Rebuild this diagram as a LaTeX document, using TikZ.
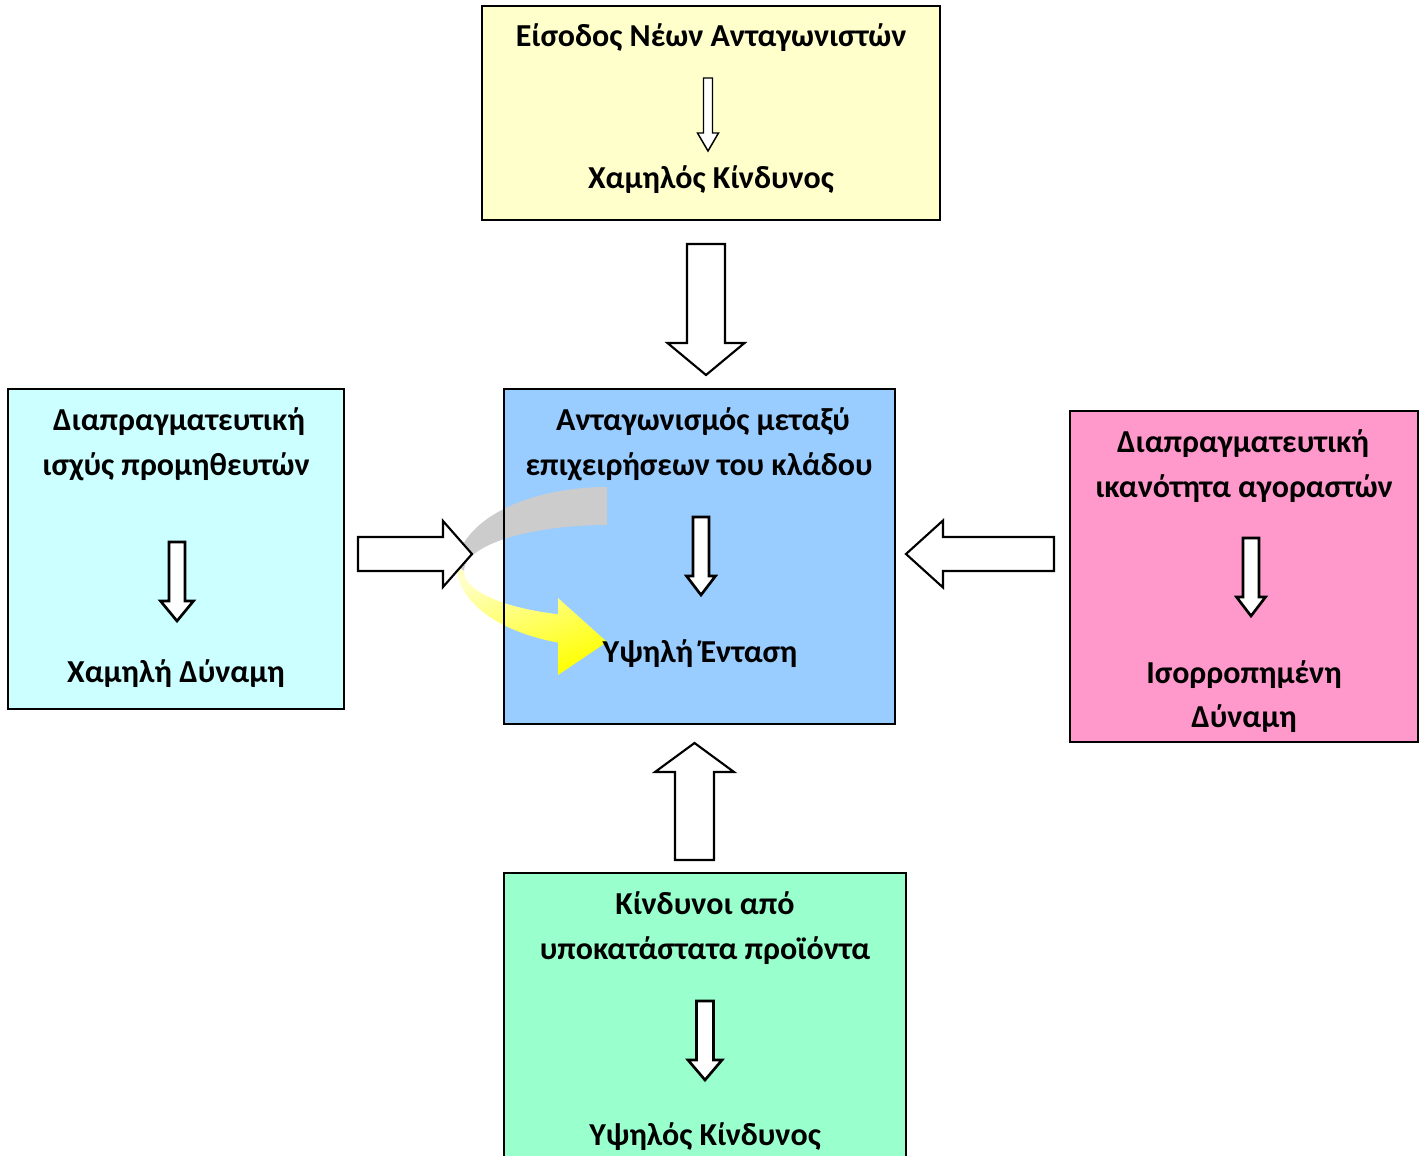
\documentclass[tikz,border=0pt]{standalone}
\usepackage{fontspec}
\setmainfont{Carlito}
\usetikzlibrary{calc}

\definecolor{boxyellow}{HTML}{FFFFCC}
\definecolor{boxcyan}{HTML}{CCFFFF}
\definecolor{boxblue}{HTML}{99CCFF}
\definecolor{boxpink}{HTML}{FF99CC}
\definecolor{boxgreen}{HTML}{99FFCC}
\definecolor{bandgray}{HTML}{CCCCCC}

% vertical block arrow: centre x, start y, shaft half width, head half width, head base y, tip y, style
\newcommand{\vblock}[7]{%
  \draw[#7] (#1-#3,#2) -- (#1+#3,#2) -- (#1+#3,#5) -- (#1+#4,#5) -- (#1,#6)
    -- (#1-#4,#5) -- (#1-#3,#5) -- cycle;}
% horizontal block arrow: centre y, start x, shaft half width, head half width, head base x, tip x, style
\newcommand{\hblock}[7]{%
  \draw[#7] (#2,#1-#3) -- (#2,#1+#3) -- (#5,#1+#3) -- (#5,#1+#4) -- (#6,#1)
    -- (#5,#1-#4) -- (#5,#1-#3) -- cycle;}

\tikzset{
  box/.style={line width=2pt, draw=black},
  label/.style={anchor=base, inner sep=0pt, font=\fontsize{24}{29}\selectfont\bfseries},
  bigarrow/.style={draw=black, fill=white, line width=1.6pt, line join=miter},
  smallarrow/.style={draw=black, fill=white, line width=2pt, line join=miter},
  thinarrow/.style={draw=black, fill=white, line width=1.1pt, line join=miter},
}

\begin{document}
\begin{tikzpicture}[x=0.75pt, y=-0.75pt]
\useasboundingbox (0,0) rectangle (1428,1156);

% box backgrounds
\fill[boxyellow] (482,6) rectangle (940,220);
\fill[boxcyan] (8,389) rectangle (344,709);
\fill[boxblue] (504,389) rectangle (895,724);
\fill[boxpink] (1070,411) rectangle (1418,742);
\begin{scope}
  \clip (0,0) rectangle (1428,1156);
  \fill[boxgreen] (504,873) rectangle (906,1170);
\end{scope}

% curved arrow inside the central box
\fill[bandgray]
  plot[domain=90:180, samples=40, smooth] ({607+150*cos(\x)}, {567-80*sin(\x)})
  -- plot[domain=180:90, samples=40, smooth] ({607+143*cos(\x)}, {571-46*sin(\x)})
  -- cycle;
\shade[top color=yellow!22!white, bottom color=yellow, shading angle=20]
  plot[domain=180:251, samples=40, smooth] ({607+150*cos(\x)}, {567-80*sin(\x)})
  -- (558,675) -- (607,642) -- (558,598)
  -- plot[domain=250:180, samples=40, smooth] ({607+143*cos(\x)}, {571-46*sin(\x)})
  -- cycle;

% box outlines
\draw[box] (482,6) rectangle (940,220);
\draw[box] (8,389) rectangle (344,709);
\draw[box] (504,389) rectangle (895,724);
\draw[box] (1070,411) rectangle (1418,742);
\begin{scope}
  \clip (0,0) rectangle (1428,1156);
  \draw[box] (504,1170) -- (504,873) -- (906,873) -- (906,1170);
\end{scope}

% arrows between the forces and the central box
\vblock{706}{244}{19}{38.5}{343}{375}{bigarrow}
\vblock{694.5}{860}{19.5}{39.5}{772}{743}{bigarrow}
\hblock{554}{358}{17}{33}{443}{472}{bigarrow}
\hblock{554}{1054}{17}{33.5}{943}{906}{bigarrow}

% arrows inside the boxes
\vblock{708}{78}{4.5}{10.5}{133}{151}{thinarrow}
\vblock{177}{542}{8}{16.5}{601}{621}{smallarrow}
\vblock{701}{517}{8}{14.5}{576}{595}{smallarrow}
\vblock{1251}{538}{8}{14.5}{597}{616}{smallarrow}
\vblock{705}{1001}{8.5}{17}{1060}{1080}{smallarrow}

% texts
\node[label] (t1) at (711,47) {Είσοδος Νέων Ανταγωνιστών};
\node[label] (t2) at (711,188) {Χαμηλός Κίνδυνος};

\node[label] (l1) at (179,430) {Διαπραγματευτική};
\node[label] (l2) at (176,475) {ισχύς προμηθευτών};
\node[label] (l3) at (176,682) {Χαμηλή Δύναμη};

\node[label] (c1) at (703,430) {Ανταγωνισμός μεταξύ};
\node[label] (c2) at (699,475) {επιχειρήσεων του κλάδου};
\node[label] (c3) at (700,662) {Υψηλή Ένταση};

\node[label] (r1) at (1243,452) {Διαπραγματευτική};
\node[label] (r2) at (1244,497) {ικανότητα αγοραστών};
\node[label] (r3) at (1244,683) {Ισορροπημένη};
\node[label] (r4) at (1244,727) {Δύναμη};

\node[label] (b1) at (705,914) {Κίνδυνοι από};
\node[label] (b2) at (705,959) {υποκατάστατα προϊόντα};
\node[label] (b3) at (705,1145) {Υψηλός Κίνδυνος};
\end{tikzpicture}
\end{document}
